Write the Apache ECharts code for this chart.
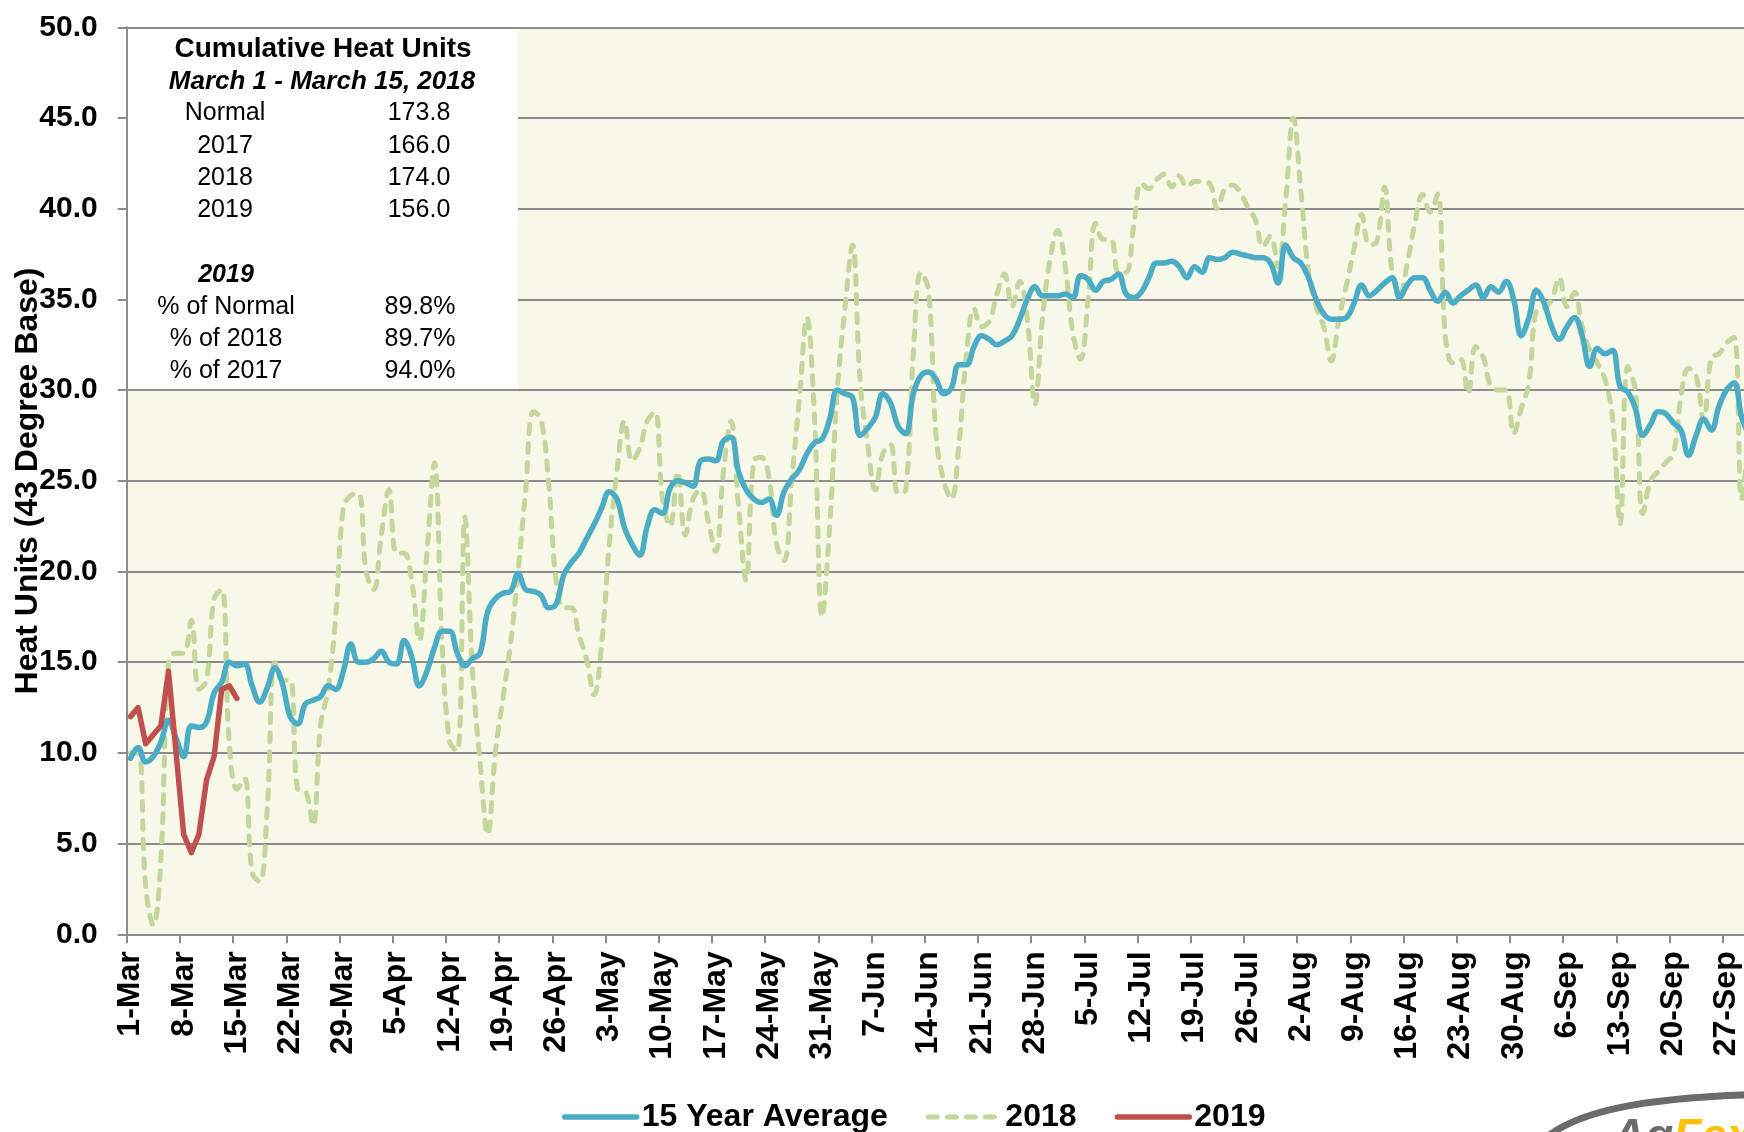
<!DOCTYPE html>
<html>
<head>
<meta charset="utf-8">
<script src="https://cdn.jsdelivr.net/npm/echarts@6/dist/echarts.min.js"></script>
<style>
html,body{margin:0;padding:0;background:#fff;overflow:hidden;width:1744px;height:1132px;}
#chart{width:1800px;height:1132px;}
</style>
</head>
<body>
<div id="chart"></div>
<script>
// ---- data (daily, starting 1-Mar) ----
var monthNames = ['Mar','Apr','May','Jun','Jul','Aug','Sep','Oct'];
var monthDays = [31,30,31,30,31,31,30,31];
var categoryCount = 218;

var avg15 = [
9.7,10.3,9.5,9.8,10.6,11.8,10.8,9.8,11.5,11.4,11.7,13.3,13.9,15.0,14.8,
14.9,13.7,12.8,13.6,14.7,13.8,12.0,11.6,12.7,12.9,13.1,13.7,13.5,14.5,16.0,
15.0,15.0,15.2,15.6,15.0,14.9,16.2,15.3,13.7,14.5,15.8,16.7,16.7,15.5,14.8,
15.2,15.5,17.8,18.5,18.8,18.9,19.9,19.0,18.9,18.7,18.0,18.2,19.8,20.5,21.0,
21.8,22.6,23.5,24.4,24.0,22.4,21.5,20.9,22.5,23.4,23.2,24.6,25.0,24.9,24.7,
26.1,26.2,26.1,27.2,27.4,25.5,24.5,24.0,23.8,24.0,23.1,24.4,25.1,25.6,26.5,
27.1,27.3,28.4,30.0,29.8,29.6,27.5,27.9,28.5,29.8,29.3,28.0,27.6,29.8,30.8,
31.0,30.6,29.8,30.1,31.4,31.4,32.4,33.0,32.8,32.5,32.7,33.0,33.9,35.0,35.7,
35.2,35.2,35.2,35.3,35.1,36.3,36.1,35.5,36.0,36.1,36.4,35.3,35.1,35.4,36.2,
37.0,37.0,37.1,36.8,36.2,36.8,36.5,37.3,37.2,37.3,37.6,37.5,37.4,37.3,37.3,
37.0,35.9,38.0,37.3,37.0,36.2,35.0,34.2,33.9,33.9,34.0,34.8,35.8,35.2,35.5,
35.9,36.2,35.1,35.8,36.2,36.2,35.5,34.9,35.4,34.8,35.2,35.5,35.8,35.1,35.7,
35.4,36.0,35.0,33.0,34.0,35.5,34.8,33.5,32.8,33.5,34.0,33.0,31.3,32.3,32.0,
32.2,30.2,29.9,29.0,27.5,28.1,28.8,28.7,28.2,27.8,26.4,27.5,28.4,27.8,29.1,
30.0,30.4,28.5,27.5
];

var y2018 = [
10.0,10.0,2.6,0.5,4.1,15.0,15.5,15.5,17.3,13.5,14.0,18.5,19.0,10.5,8.0,
8.6,3.4,2.9,7.0,15.0,14.0,14.0,8.0,7.9,6.0,11.5,13.5,17.5,23.5,24.2,
24.3,20.0,19.0,22.0,24.5,21.0,21.0,19.5,16.2,21.0,26.0,16.0,10.6,10.1,23.0,
14.5,9.5,5.5,10.0,13.0,16.0,20.0,24.5,28.8,28.4,25.0,19.5,18.0,18.0,16.5,
15.2,13.2,16.0,21.5,25.5,28.3,26.1,26.8,28.3,28.8,24.0,22.5,25.5,22.0,24.0,
24.5,22.8,21.1,25.4,28.3,23.6,19.5,26.1,26.3,25.2,21.5,20.6,25.0,29.5,34.0,
28.5,17.5,22.5,30.0,34.5,38.0,30.5,27.0,24.5,26.5,27.0,24.3,24.5,32.0,36.5,
35.5,27.5,25.0,24.0,27.0,32.0,34.5,33.5,33.8,35.3,36.4,34.6,36.0,33.9,29.2,
34.0,37.2,38.8,36.8,33.1,31.7,35.0,39.2,38.3,38.3,36.5,36.5,39.0,41.4,41.1,
41.6,41.9,41.2,41.8,41.2,41.5,41.5,41.4,40.0,41.1,41.3,40.9,40.1,39.4,37.9,
38.5,36.8,40.5,45.0,41.0,36.5,34.6,33.5,31.6,33.9,35.8,37.8,39.7,38.0,38.2,
41.2,36.5,35.3,37.0,39.2,40.8,39.8,40.8,33.0,31.5,31.7,29.8,32.4,31.8,30.2,
30.0,30.0,27.6,29.0,30.4,34.4,34.5,35.0,36.2,34.6,35.4,33.5,32.2,31.5,30.6,
28.5,22.6,31.3,30.0,23.2,25.0,25.5,26.0,26.5,29.6,31.2,30.8,28.3,31.8,32.0,
32.6,32.9,24.0,28.0
];

var y2019 = [12.0,12.5,10.5,11.0,11.5,14.5,10.0,5.5,4.5,5.5,8.5,9.8,13.5,13.7,13.0];

var yTicks = {min: 0, max: 50, interval: 5};

var boxRowsLeft = ['Normal','2017','2018','2019'];
var boxRowsRight = ['173.8','166.0','174.0','156.0'];
var boxPctLeft = ['% of Normal','% of 2018','% of 2017'];
var boxPctRight = ['89.8%','89.7%','94.0%'];

// category labels (dates)
var categories = [];
(function(){
  var m = 0, d = 1;
  for (var i = 0; i < categoryCount; i++) {
    categories.push(d + '-' + monthNames[m]);
    d++;
    if (d > monthDays[m]) { d = 1; m++; }
  }
})();

var FONT = '"Liberation Sans", Arial, Helvetica, sans-serif';

var chart = echarts.init(document.getElementById('chart'), null, {renderer: 'canvas'});

var graphics = [];
// white info box
graphics.push({type:'rect', z:100, shape:{x:128, y:29, width:390, height:360}, style:{fill:'#ffffff'}});
function txt(s, x, y, size, weight, style, align) {
  graphics.push({type:'text', z:101, x:x, y:y, style:{text:s, font: (style||'normal') + ' ' + (weight||'normal') + ' ' + size + 'px ' + FONT, fill:'#000', textAlign: align||'center', textVerticalAlign:'middle'}});
}
txt('Cumulative Heat Units', 323, 49, 28, 'bold');
txt('March 1 - March 15, 2018', 322, 82, 26, 'bold', 'italic');
var rowY = [113.5, 145.7, 178, 210];
for (var r = 0; r < boxRowsLeft.length; r++) {
  txt(boxRowsLeft[r], 225, rowY[r], 25);
  txt(boxRowsRight[r], 419, rowY[r], 25);
}
txt('2019', 226, 274.7, 25, 'bold', 'italic');
var pctY = [307, 339, 371];
for (var p = 0; p < boxPctLeft.length; p++) {
  txt(boxPctLeft[p], 226, pctY[p], 25);
  txt(boxPctRight[p], 420, pctY[p], 25);
}
// y axis title
graphics.push({type:'text', z:101, x:28, y:481, rotation:Math.PI/2,
  style:{text:'Heat Units (43 Degree Base)', font:'bold 32px ' + FONT, fill:'#000', textAlign:'center', textVerticalAlign:'middle'}});
// logo (AgFax)
graphics.push({type:'bezierCurve', z:50, shape:{x1:1548, y1:1136, cpx1:1585, cpy1:1108, cpx2:1655, cpy2:1097, x2:1770, y2:1094},
  style:{fill:null, stroke:'#6b6b6b', lineWidth:7, lineCap:'round'}});
graphics.push({type:'text', z:50, x:1612, y:1115, style:{
  text:'{a|Ag}{b|Fax}', textVerticalAlign:'top', textAlign:'left',
  rich:{a:{fill:'#6b6b6b', fontStyle:'italic', fontWeight:'bold', fontSize:46, fontFamily:FONT},
        b:{fill:'#FFC000', fontStyle:'italic', fontWeight:'bold', fontSize:46, fontFamily:FONT}}
}});

var option = {
  animation: false,
  backgroundColor: '#ffffff',
  textStyle: {fontFamily: FONT},
  grid: {left: 126.7, top: 27.3, width: 7.6 * categoryCount, height: 907, show: true, backgroundColor: '#F8F8E8', borderWidth: 0},
  legend: {
    left: 557, top: 1094, itemWidth: 72, itemHeight: 14, itemGap: 38,
    itemStyle: {opacity: 0},
    lineStyle: {width: 'inherit'},
    textStyle: {fontFamily: FONT, fontWeight: 'bold', fontSize: 32, color: '#000', lineHeight: 36},
    data: ['15 Year Average', '2018', '2019']
  },
  xAxis: {
    type: 'category', data: categories, boundaryGap: true,
    axisLine: {lineStyle: {color: '#8c8c8c', width: 2}},
    axisTick: {show: true, length: 9, alignWithLabel: false, interval: function(i){ return i % 7 === 0; }, lineStyle: {color: '#8c8c8c', width: 2}},
    axisLabel: {interval: function(i){ return i % 7 === 0; }, rotate: 90, margin: 17, fontSize: 32, fontWeight: 'bold', color: '#000', fontFamily: FONT},
    splitLine: {show: false}
  },
  yAxis: {
    type: 'value', min: yTicks.min, max: yTicks.max, interval: yTicks.interval,
    axisLine: {show: true, lineStyle: {color: '#8c8c8c', width: 2}},
    axisTick: {show: true, length: 9, lineStyle: {color: '#8c8c8c', width: 2}},
    axisLabel: {margin: 29, fontSize: 30, fontWeight: 'bold', color: '#000', fontFamily: FONT, formatter: function(v){ return v.toFixed(1); }},
    splitLine: {show: true, lineStyle: {color: '#8c8c8c', width: 2}}
  },
  series: [
    {name: '15 Year Average', type: 'line', data: avg15, smooth: 0.4, symbol: 'none', z: 4,
     lineStyle: {color: '#4BACC6', width: 5.5, cap: 'round', join: 'round'}, itemStyle: {color: '#4BACC6'}},
    {name: '2018', type: 'line', data: y2018, smooth: 0.4, symbol: 'none', z: 3,
     lineStyle: {color: '#C3D69B', width: 5, type: [9, 10], cap: 'round', join: 'round'}, itemStyle: {color: '#C3D69B'}},
    {name: '2019', type: 'line', data: y2019, smooth: false, symbol: 'none', z: 5,
     lineStyle: {color: '#C0504D', width: 5.5, cap: 'round', join: 'round'}, itemStyle: {color: '#C0504D'}}
  ],
  graphic: graphics
};
chart.setOption(option);
</script>
</body>
</html>
